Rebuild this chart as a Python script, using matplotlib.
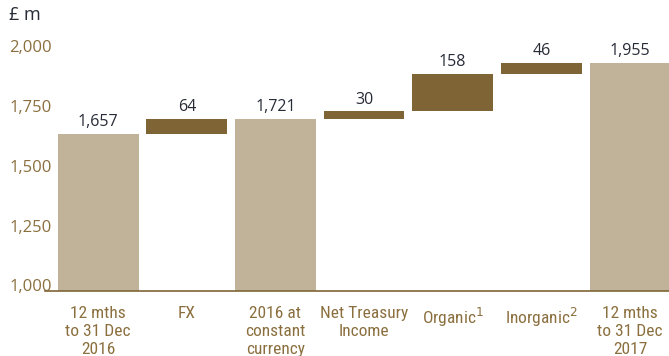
import matplotlib
matplotlib.use("Agg")
import matplotlib.pyplot as plt
from matplotlib.transforms import ScaledTranslation

# Revenue bridge, £ m
categories = ["12 mths\nto 31 Dec\n2016", "FX", "2016 at\nconstant\ncurrency",
              "Net Treasury\nIncome", "Organic$^1$", "Inorganic$^2$",
              "12 mths\nto 31 Dec\n2017"]
totals = {0: 1657, 2: 1721, 6: 1955}
changes = {1: 64, 3: 30, 4: 158, 5: 46}
yticks = [1000, 1250, 1500, 1750, 2000]

TAN = "#c0b399"
BROWN = "#7f6535"
GOLD_TEXT = "#8b6f3e"
DARK_TEXT = "#262b36"

fig = plt.figure(figsize=(6.69, 3.56), dpi=100)
ax = fig.add_axes([45 / 669, 65 / 356, 624 / 669, 251 / 356])

base = 1000
running = 0
bar_w = 0.91
for i in range(len(categories)):
    if i in totals:
        running = totals[i]
        ax.bar(i, running - base, bottom=base, width=bar_w, color=TAN, zorder=2)
        top = running
        label = f"{totals[i]:,}"
    else:
        d = changes[i]
        ax.bar(i, d, bottom=running, width=bar_w, color=BROWN, zorder=2)
        running += d
        top = running
        label = f"{d:,}"
    ax.annotate(label, (i, top), xytext=(0, 2.5), textcoords="offset points",
                ha="center", va="bottom", fontsize=11.5, color=DARK_TEXT,
                family="Open Sans")

ax.set_xlim(-0.6, 6.44)
ax.set_ylim(1000, 2050)

for s in ["top", "right", "left"]:
    ax.spines[s].set_visible(False)
ax.spines["bottom"].set_color(BROWN)
ax.spines["bottom"].set_linewidth(1.2)

ax.set_yticks(yticks)
ax.set_yticklabels([f"{v:,}" for v in yticks], family="Open Sans",
                   fontsize=12, color=GOLD_TEXT)
ax.tick_params(axis="y", length=0, pad=-5)
for lbl in ax.get_yticklabels():
    lbl.set_transform(lbl.get_transform() + ScaledTranslation(0, 4 / 72, fig.dpi_scale_trans))

ax.set_xticks(range(len(categories)))
ax.set_xticklabels(categories, family=["Liberation Sans Narrow", "Roboto Condensed", "Roboto"],
                   fontstretch="condensed", fontsize=12.5, color=GOLD_TEXT,
                   linespacing=1.22)
ax.tick_params(axis="x", length=0, pad=11)

fig.text(9 / 669, 1 - 15 / 356, "£ m", family="Open Sans", fontsize=13,
         color=DARK_TEXT, va="center", ha="left")

fig.savefig("out.png", dpi=100)
